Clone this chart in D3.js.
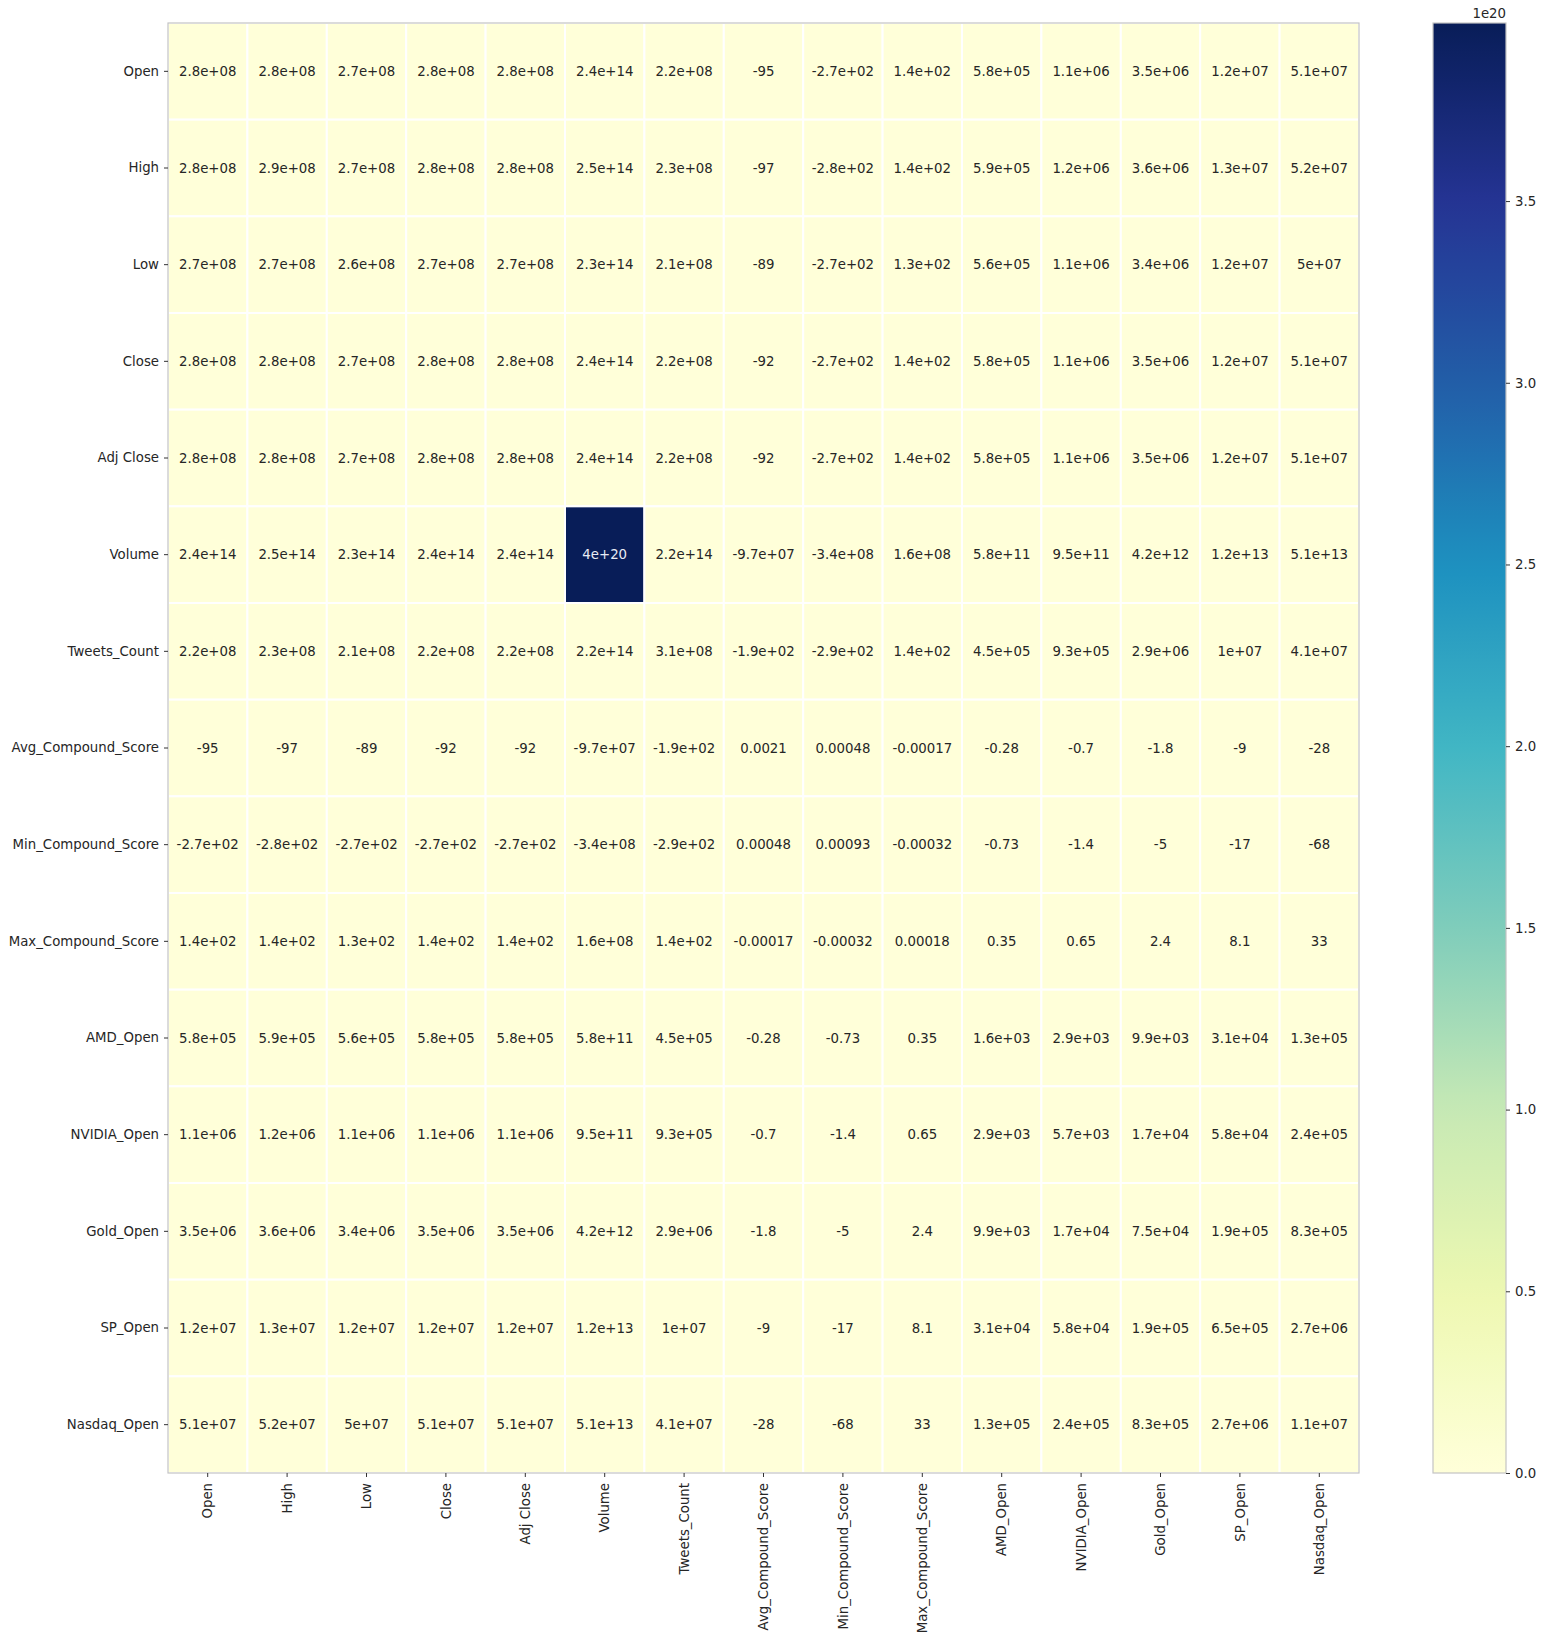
<!DOCTYPE html>
<html>
<head>
<meta charset="utf-8">
<script src="https://cdn.jsdelivr.net/npm/d3@7"></script>
<style>
  html, body { margin: 0; padding: 0; background: #fff; }
  svg { display: block; font-family: "DejaVu Sans", sans-serif; }
</style>
</head>
<body>
<svg id="chart" width="1543" height="1640"></svg>
<script>
// Variable names (rows and columns share the same order)
const variables = [
  "Open", "High", "Low", "Close", "Adj Close", "Volume", "Tweets_Count",
  "Avg_Compound_Score", "Min_Compound_Score", "Max_Compound_Score",
  "AMD_Open", "NVIDIA_Open", "Gold_Open", "SP_Open", "Nasdaq_Open"
];

// Covariance matrix, one array per row
const rowOpen      = [2.8e8, 2.8e8, 2.7e8, 2.8e8, 2.8e8, 2.4e14, 2.2e8, -95, -2.7e2, 1.4e2, 5.8e5, 1.1e6, 3.5e6, 1.2e7, 5.1e7];
const rowHigh      = [2.8e8, 2.9e8, 2.7e8, 2.8e8, 2.8e8, 2.5e14, 2.3e8, -97, -2.8e2, 1.4e2, 5.9e5, 1.2e6, 3.6e6, 1.3e7, 5.2e7];
const rowLow       = [2.7e8, 2.7e8, 2.6e8, 2.7e8, 2.7e8, 2.3e14, 2.1e8, -89, -2.7e2, 1.3e2, 5.6e5, 1.1e6, 3.4e6, 1.2e7, 5e7];
const rowClose     = [2.8e8, 2.8e8, 2.7e8, 2.8e8, 2.8e8, 2.4e14, 2.2e8, -92, -2.7e2, 1.4e2, 5.8e5, 1.1e6, 3.5e6, 1.2e7, 5.1e7];
const rowAdjClose  = [2.8e8, 2.8e8, 2.7e8, 2.8e8, 2.8e8, 2.4e14, 2.2e8, -92, -2.7e2, 1.4e2, 5.8e5, 1.1e6, 3.5e6, 1.2e7, 5.1e7];
const rowVolume    = [2.4e14, 2.5e14, 2.3e14, 2.4e14, 2.4e14, 3.99e20, 2.2e14, -9.7e7, -3.4e8, 1.6e8, 5.8e11, 9.5e11, 4.2e12, 1.2e13, 5.1e13];
const rowTweets    = [2.2e8, 2.3e8, 2.1e8, 2.2e8, 2.2e8, 2.2e14, 3.1e8, -1.9e2, -2.9e2, 1.4e2, 4.5e5, 9.3e5, 2.9e6, 1e7, 4.1e7];
const rowAvgScore  = [-95, -97, -89, -92, -92, -9.7e7, -1.9e2, 0.0021, 0.00048, -0.00017, -0.28, -0.7, -1.8, -9, -28];
const rowMinScore  = [-2.7e2, -2.8e2, -2.7e2, -2.7e2, -2.7e2, -3.4e8, -2.9e2, 0.00048, 0.00093, -0.00032, -0.73, -1.4, -5, -17, -68];
const rowMaxScore  = [1.4e2, 1.4e2, 1.3e2, 1.4e2, 1.4e2, 1.6e8, 1.4e2, -0.00017, -0.00032, 0.00018, 0.35, 0.65, 2.4, 8.1, 33];
const rowAMD       = [5.8e5, 5.9e5, 5.6e5, 5.8e5, 5.8e5, 5.8e11, 4.5e5, -0.28, -0.73, 0.35, 1.6e3, 2.9e3, 9.9e3, 3.1e4, 1.3e5];
const rowNVIDIA    = [1.1e6, 1.2e6, 1.1e6, 1.1e6, 1.1e6, 9.5e11, 9.3e5, -0.7, -1.4, 0.65, 2.9e3, 5.7e3, 1.7e4, 5.8e4, 2.4e5];
const rowGold      = [3.5e6, 3.6e6, 3.4e6, 3.5e6, 3.5e6, 4.2e12, 2.9e6, -1.8, -5, 2.4, 9.9e3, 1.7e4, 7.5e4, 1.9e5, 8.3e5];
const rowSP        = [1.2e7, 1.3e7, 1.2e7, 1.2e7, 1.2e7, 1.2e13, 1e7, -9, -17, 8.1, 3.1e4, 5.8e4, 1.9e5, 6.5e5, 2.7e6];
const rowNasdaq    = [5.1e7, 5.2e7, 5e7, 5.1e7, 5.1e7, 5.1e13, 4.1e7, -28, -68, 33, 1.3e5, 2.4e5, 8.3e5, 2.7e6, 1.1e7];

const matrix = [rowOpen, rowHigh, rowLow, rowClose, rowAdjClose, rowVolume, rowTweets,
  rowAvgScore, rowMinScore, rowMaxScore, rowAMD, rowNVIDIA, rowGold, rowSP, rowNasdaq];

// Colorbar ticks, in units of 1e20
const colorbarTicks = [0.0, 0.5, 1.0, 1.5, 2.0, 2.5, 3.0, 3.5];
const colorbarExponent = 1e20;

// Python-style "%.2g" formatting for the cell annotations
function fmtG2(v) {
  if (v === 0) return "0";
  const exp = Math.floor(Math.log10(Math.abs(Number(v.toPrecision(2)))));
  if (exp < -4 || exp >= 2) {
    let s = v.toExponential(1);
    let [mant, e] = s.split("e");
    mant = mant.replace(/\.0$/, "");
    const sign = e[0] === "-" ? "-" : "+";
    let digits = e.replace(/[+-]/, "");
    if (digits.length < 2) digits = "0" + digits;
    return mant + "e" + sign + digits;
  }
  let s = v.toFixed(Math.max(0, 1 - exp));
  if (s.includes(".")) s = s.replace(/0+$/, "").replace(/\.$/, "");
  return s;
}

// YlGnBu as a piecewise-linear ramp through the nine scheme colours
const ylGnBu = d3.piecewise(d3.interpolateRgb, d3.schemeYlGnBu[9]);

const svg = d3.select("#chart");
const plot = { left: 168, right: 1359, top: 23, bottom: 1473 };
const cbar = { left: 1433, right: 1506, top: 23, bottom: 1473 };

const x = d3.scaleBand().domain(variables).range([plot.left, plot.right]);
const y = d3.scaleBand().domain(variables).range([plot.top, plot.bottom]);

const allValues = matrix.flat();
const vMin = d3.min(allValues), vMax = d3.max(allValues);
const color = d3.scaleSequential(ylGnBu).domain([vMin, vMax]);

const cells = [];
matrix.forEach((row, i) => row.forEach((v, j) => cells.push({ r: variables[i], c: variables[j], v })));

// Heatmap cells
svg.append("g").selectAll("rect").data(cells).join("rect")
  .attr("x", d => x(d.c))
  .attr("y", d => y(d.r))
  .attr("width", x.bandwidth())
  .attr("height", y.bandwidth())
  .attr("fill", d => color(d.v))
  .attr("stroke", "#fff")
  .attr("stroke-width", 2);

// Cell annotations, light text on dark cells
function luminance(c) {
  const rgb = d3.rgb(c);
  const lin = [rgb.r, rgb.g, rgb.b].map(u => {
    u /= 255;
    return u <= 0.03928 ? u / 12.92 : Math.pow((u + 0.055) / 1.055, 2.4);
  });
  return 0.2126 * lin[0] + 0.7152 * lin[1] + 0.0722 * lin[2];
}
svg.append("g").selectAll("text").data(cells).join("text")
  .attr("x", d => x(d.c) + x.bandwidth() / 2)
  .attr("y", d => y(d.r) + y.bandwidth() / 2)
  .attr("text-anchor", "middle")
  .attr("dominant-baseline", "central")
  .attr("font-size", "13.3px")
  .attr("fill", d => luminance(color(d.v)) > 0.408 ? "#262626" : "#e8ecf4")
  .text(d => fmtG2(d.v));

// Frame around the heatmap
svg.append("rect")
  .attr("x", plot.left).attr("y", plot.top)
  .attr("width", plot.right - plot.left).attr("height", plot.bottom - plot.top)
  .attr("fill", "none").attr("stroke", "#c4c4c4").attr("stroke-width", 1.2);

// Axes
const yAxis = svg.append("g")
  .attr("transform", `translate(${plot.left},0)`)
  .call(d3.axisLeft(y).tickSize(4).tickPadding(5));
const xAxis = svg.append("g")
  .attr("transform", `translate(0,${plot.bottom})`)
  .call(d3.axisBottom(x).tickSize(4).tickPadding(5));
[yAxis, xAxis].forEach(a => {
  a.select(".domain").remove();
  a.selectAll(".tick line").attr("stroke", "#333").attr("stroke-width", 1);
  a.selectAll(".tick text").attr("fill", "#262626").attr("font-size", "13.3px")
    .attr("font-family", "DejaVu Sans, sans-serif");
});
xAxis.selectAll(".tick text")
  .attr("transform", "rotate(-90)")
  .attr("text-anchor", "end")
  .attr("dy", "0.35em")
  .attr("x", -10)
  .attr("y", 0);

// Colorbar
const cScale = d3.scaleLinear().domain([vMin / colorbarExponent, vMax / colorbarExponent])
  .range([cbar.bottom, cbar.top]);
const defs = svg.append("defs");
const grad = defs.append("linearGradient").attr("id", "cbgrad")
  .attr("x1", 0).attr("y1", 1).attr("x2", 0).attr("y2", 0);
d3.range(0, 1.0001, 0.02).forEach(t => {
  grad.append("stop").attr("offset", t).attr("stop-color", ylGnBu(t));
});
svg.append("rect")
  .attr("x", cbar.left).attr("y", cbar.top)
  .attr("width", cbar.right - cbar.left).attr("height", cbar.bottom - cbar.top)
  .attr("fill", "url(#cbgrad)")
  .attr("stroke", "#c4c4c4").attr("stroke-width", 1.2);

const cAxis = svg.append("g")
  .attr("transform", `translate(${cbar.right},0)`)
  .call(d3.axisRight(cScale).tickValues(colorbarTicks).tickFormat(d3.format(".1f")).tickSize(4).tickPadding(5));
cAxis.select(".domain").remove();
cAxis.selectAll(".tick line").attr("stroke", "#333");
cAxis.selectAll(".tick text").attr("fill", "#262626").attr("font-size", "13.3px")
  .attr("font-family", "DejaVu Sans, sans-serif");

svg.append("text")
  .attr("x", cbar.right).attr("y", 18)
  .attr("text-anchor", "end")
  .attr("font-size", "13.3px")
  .attr("fill", "#262626")
  .text("1e20");
</script>
</body>
</html>
